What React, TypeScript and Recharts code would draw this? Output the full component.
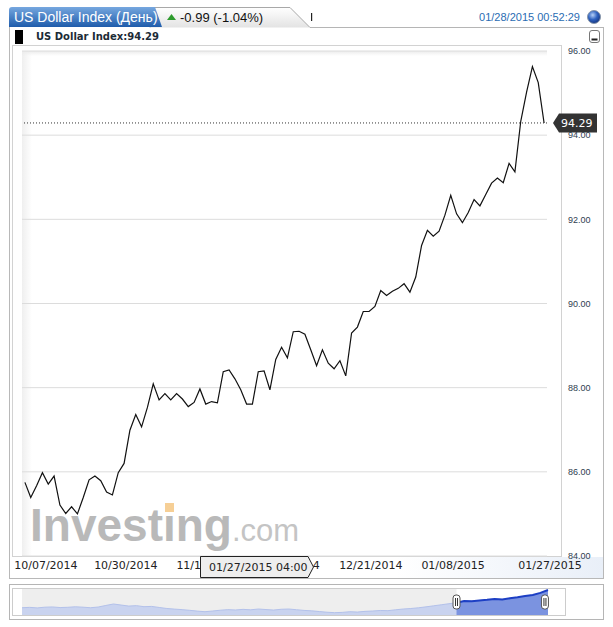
import {
  LineChart,
  Line,
  XAxis,
  YAxis,
  CartesianGrid,
  ReferenceLine,
  ReferenceArea,
  AreaChart,
  Area,
} from "recharts";

// daily closes (10/07/2014 .. 01/28/2015)
const dxyClose = [
  85.75, 85.39, 85.67, 85.98, 85.71, 85.9, 85.21, 85.01, 85.17, 85.0,
  85.39, 85.81, 85.9, 85.79, 85.52, 85.45, 85.98, 86.2, 86.99, 87.36,
  87.07, 87.53, 88.09, 87.71, 87.86, 87.71, 87.86, 87.73, 87.55, 87.65,
  87.97, 87.61, 87.67, 87.64, 88.38, 88.42, 88.21, 87.95, 87.61, 87.61,
  88.38, 88.4, 87.95, 88.67, 88.96, 88.71, 89.33, 89.34, 89.27, 88.9,
  88.52, 88.9, 88.58, 88.45, 88.64, 88.28, 89.3, 89.44, 89.81, 89.81,
  89.93, 90.31, 90.19, 90.29, 90.36, 90.47, 90.27, 90.63, 91.38, 91.74,
  91.6, 91.72, 92.1, 92.57, 92.13, 91.92, 92.16, 92.47, 92.32, 92.59,
  92.86, 92.98, 92.87, 93.33, 93.13, 94.33, 95.02, 95.63, 95.25, 94.29,
];
const lastValue = 94.29;

const xTickPos = [3.6, 17.3, 31.4, 45.1, 59.3, 73.4, 89.5];
const xTickLabels = [
  "10/07/2014",
  "10/30/2014",
  "11/18/2014",
  "12/03/2014",
  "12/21/2014",
  "01/08/2015",
  "01/27/2015",
];
const yTicks = [84, 86, 88, 90, 92, 94, 96];

// overview strip under the chart
const navHistory = [
  78.4, 78.8, 78.2, 79.0, 79.3, 78.6, 78.9, 79.5, 79.0, 78.4, 79.2,
  81.0, 82.7, 81.5,
  80.3, 80.8, 79.6, 79.9, 78.7, 77.5, 76.8, 76.2, 75.4, 74.5, 73.8,
  74.6, 75.5, 76.2, 75.8, 76.5, 76.0, 76.9, 76.3, 75.7, 76.6, 76.9,
  76.1, 75.3, 74.8, 74.0, 73.2, 72.7, 73.0, 73.8, 73.4, 74.2, 74.6,
  75.2, 75.0, 76.0, 76.9, 77.5, 78.3, 79.4, 80.6, 81.8, 83.0,
  84.2, 86.2, 86.0, 86.8, 87.5, 88.5, 88.0, 89.2, 90.4, 91.9, 93.0, 95.5, 98.8,
];
const navSelStart = 57;
const navSelEnd = 68.6;

const SANS = "'Liberation Sans', Arial, sans-serif";
const DEJA = "'DejaVu Sans', Verdana, sans-serif";

const renderBadge = (props: any) => {
  const vb = props.viewBox || {};
  const x = vb.x + vb.width + 6;
  const y = vb.y;
  const pts = `${x},${y} ${x + 6},${y - 9.5} ${x + 44},${y - 9.5} ${x + 44},${y + 9.5} ${x + 6},${y + 9.5}`;
  return (
    <g>
      <polygon points={pts} fill="#333333" />
      <text x={x + 8} y={y + 4} fontSize={11} fill="#ffffff" fontFamily={DEJA}>
        {lastValue.toFixed(2)}
      </text>
    </g>
  );
};

const renderHandle = (props: any) => {
  const vb = props.viewBox || {};
  const x = vb.x;
  const y = vb.y + 6;
  return (
    <g>
      <rect x={x - 3.5} y={y} width={7} height={14} rx={3} fill="#ffffff" stroke="#555" />
      <line x1={x - 1} y1={y + 3} x2={x - 1} y2={y + 11} stroke="#333" />
      <line x1={x + 1} y1={y + 3} x2={x + 1} y2={y + 11} stroke="#333" />
    </g>
  );
};

// last date label sits a little past the final point, as in the original
const XTick = (props: any) => {
  const { x, y, payload, index } = props;
  const shift = index === xTickLabels.length - 1 ? 3 : 0;
  return (
    <text x={x + shift} y={y} dy="0.71em" textAnchor="middle" fontSize={11} fill="#222" fontFamily={DEJA}>
      {xTickLabels[index] ?? payload.value}
    </text>
  );
};

export default function App() {
  const table = dxyClose.map((v, i) => ({ i, v }));
  const navTable = navHistory.map((v, i) => ({
    i,
    all: v,
    sel: i >= navSelStart ? v : null,
  }));

  const abs = (s: any) => ({ position: "absolute" as const, boxSizing: "border-box" as const, ...s });

  return (
    <div style={abs({ left: 0, top: 0, width: 613, height: 627, background: "#fff" })}>
      {/* frames */}
      <div style={abs({ left: 9, top: 27, width: 595, height: 552, borderLeft: "1px solid #b8b8b8", borderRight: "1px solid #b8b8b8", borderBottom: "1px solid #b8b8b8" })} />
      <div style={abs({ left: 10, top: 557, width: 593, height: 21, background: "linear-gradient(to right, #ffffff 65%, #e9eff8)" })} />
      <div style={abs({ left: 12, top: 45, width: 550, height: 512, border: "1px solid #d2d2d2" })} />
      <div
        style={abs({
          left: 22,
          top: 51,
          width: 525,
          height: 505,
          background:
            "linear-gradient(to bottom, #ececec, rgba(255,255,255,0) 5px), linear-gradient(to right, #efefef, #ffffff 10px)",
        })}
      />

      {/* watermark */}
      <svg width={613} height={627} style={abs({ left: 0, top: 0 })}>
        <text x={30} y={541} fontFamily={SANS} fontWeight="bold" fontSize={46} fill="#b9b9b9">
          Investing
          <tspan fontWeight="normal" fontSize={31} fill="#c4c4c4">
            .com
          </tspan>
        </text>
        <rect x={165} y={503} width={9} height={9} fill="#f6cf96" />
      </svg>

      {/* header */}
      <svg width={613} height={46} style={abs({ left: 0, top: 0 })}>
        <defs>
          <linearGradient id="blueTab" x1="0" y1="0" x2="0" y2="1">
            <stop offset="0" stopColor="#76a7df" />
            <stop offset="1" stopColor="#1f5cab" />
          </linearGradient>
          <linearGradient id="grayTab" x1="0" y1="0" x2="0" y2="1">
            <stop offset="0" stopColor="#ffffff" />
            <stop offset="1" stopColor="#e3e3e3" />
          </linearGradient>
          <radialGradient id="ball" cx="0.4" cy="0.35" r="0.7">
            <stop offset="0" stopColor="#b5d0f7" />
            <stop offset="0.5" stopColor="#3063c0" />
            <stop offset="1" stopColor="#11307a" />
          </radialGradient>
          <clipPath id="blueClip">
            <path d="M9 27 L9 10 Q9 7 12 7 L155 7 L162 27 Z" />
          </clipPath>
        </defs>
        <line x1={310} y1={27.5} x2={604} y2={27.5} stroke="#b5b5b5" />
        <path d="M150 27.5 L150 7.5 L290 7.5 L310 27.5" fill="url(#grayTab)" stroke="#a8a8a8" />
        <path d="M9 27 L9 10 Q9 7 12 7 L155 7 L162 27 Z" fill="url(#blueTab)" />
        <text x={14} y={22} clipPath="url(#blueClip)" fill="#ffffff" fontSize={14} fontFamily={SANS}>
          US Dollar Index (День)
        </text>
        <polygon points="167,20 171.5,14 176,20" fill="#2e9b2e" />
        <text x={180} y={22} fontSize={13} fill="#111" fontFamily={SANS}>
          -0.99 (-1.04%)
        </text>
        <rect x={311} y={13} width={1.2} height={8} fill="#222" />
        <text x={580} y={21} textAnchor="end" fontSize={11} fill="#2a6cb3" fontFamily={SANS}>
          01/28/2015 00:52:29
        </text>
        <circle cx={594} cy={17} r={6.5} fill="url(#ball)" stroke="#8a98aa" />
        <rect x={15} y={30} width={8} height={14} fill="#000" />
        <text x={36} y={40} fontSize={10} fontWeight="bold" fill="#1c2b36" fontFamily={DEJA}>
          US Dollar Index:94.29
        </text>
        <rect x={589.5} y={30.5} width={10} height={12} rx={2.5} fill="#fff" stroke="#777" />
        <rect x={591.5} y={38.5} width={6} height={2} fill="#222" />
      </svg>

      {/* main chart */}
      <div style={abs({ left: 12, top: 45 })}>
        <LineChart width={588} height={535} data={table} margin={{ top: 6, right: 0, bottom: 0, left: 10 }}>
          <CartesianGrid vertical={false} stroke="#dcdcdc" />
          <XAxis
            type="number"
            dataKey="i"
            domain={[-0.5, 89.5]}
            ticks={xTickPos}
            interval={0}
            axisLine={false}
            tickLine={false}
            tickSize={0}
            tickMargin={5}
            height={24}
            tick={<XTick />}
          />
          <YAxis
            orientation="right"
            domain={[84, 96]}
            ticks={yTicks}
            width={53}
            axisLine={false}
            tickLine={false}
            tickSize={0}
            tickMargin={21}
            tickFormatter={(v: number) => v.toFixed(2)}
            tick={{ fontSize: 9, fill: "#2f4050", fontFamily: SANS }}
          />
          <Line type="linear" dataKey="v" stroke="#111" strokeWidth={1.2} dot={false} isAnimationActive={false} />
          <ReferenceLine y={lastValue} stroke="#333" strokeDasharray="1 2" label={renderBadge} />
        </LineChart>
      </div>

      {/* crosshair date box */}
      <svg width={613} height={627} style={abs({ left: 0, top: 0, pointerEvents: "none" })}>
        <polygon points="200.5,556.5 308,556.5 313.5,567 308,577.5 200.5,577.5" fill="#eeeeee" stroke="#222" />
        <text x={209} y={571} fontSize={11} fill="#222" fontFamily={DEJA}>
          01/27/2015 04:00
        </text>
      </svg>

      {/* navigator */}
      <div style={abs({ left: 9, top: 584, width: 595, height: 36, border: "1px solid #b5b5b5" })} />
      <div style={abs({ left: 12, top: 588, width: 554, height: 28, border: "1px solid #cccccc" })} />
      <div style={abs({ left: 12, top: 588 })}>
        <AreaChart width={553} height={27} data={navTable} margin={{ top: 1, right: 17, bottom: 0, left: 10 }}>
          <XAxis type="number" dataKey="i" domain={[0, 69]} hide />
          <YAxis domain={[70, 100]} hide allowDataOverflow />
          <ReferenceArea x1={0} x2={navSelStart} fill="#eeeeee" fillOpacity={1} stroke="none" />
          <Area
            type="linear"
            dataKey="all"
            stroke="#b3c1ea"
            strokeWidth={1}
            fill="#c9d3ef"
            fillOpacity={1}
            isAnimationActive={false}
          />
          <Area
            type="linear"
            dataKey="sel"
            stroke="#1d3fc4"
            strokeWidth={2}
            fill="#7b93e0"
            fillOpacity={1}
            isAnimationActive={false}
          />
          <ReferenceLine x={navSelStart} stroke="none" label={renderHandle} />
          <ReferenceLine x={navSelEnd} stroke="none" label={renderHandle} />
        </AreaChart>
      </div>
    </div>
  );
}
